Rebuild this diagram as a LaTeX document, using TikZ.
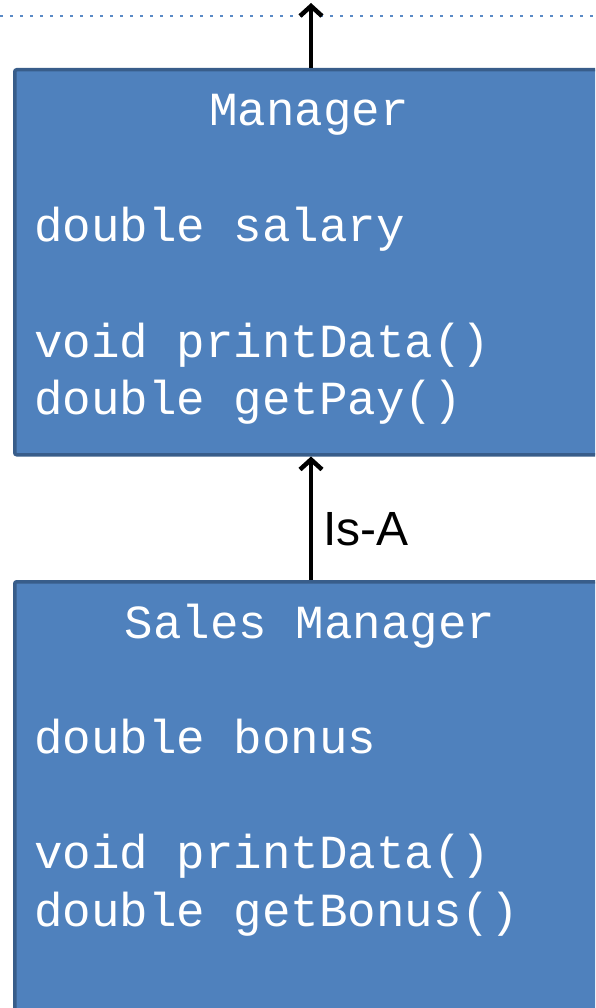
\documentclass[tikz,border=0pt]{standalone}
\usepackage{fontspec}
\setmainfont{Liberation Sans}
\newfontfamily\codefont{Liberation Mono}
\usetikzlibrary{arrows.meta}
\definecolor{boxfill}{HTML}{4F81BD}
\definecolor{boxline}{HTML}{385D8A}
\definecolor{dotcol}{HTML}{5A8AC6}
\begin{document}
\begin{tikzpicture}[x=1pt,y=-1pt,
 box/.style={draw=boxline, line width=3.5pt, fill=boxfill, rounded corners=2pt, anchor=north west, inner sep=0pt},
 code/.style={font=\codefont\fontsize{47.5}{57}\selectfont, text=white, anchor=base west, inner sep=0pt},
 title/.style={code, anchor=base},
 arr/.style={line width=4.5pt, -{Straight Barb[length=10pt,width=22pt,line width=4.5pt]}}]
\useasboundingbox (0,0) rectangle (595,1008);
\clip (0,0) rectangle (595,1008);
\draw[dotcol, line width=2.5pt, dash pattern=on 2.5pt off 7.5pt] (0,16) -- (595,16);
\node[box, minimum width=640pt, minimum height=385pt] (mgr) at (13,68) {};
\node[box, minimum width=640pt, minimum height=470pt] (smgr) at (13,580) {};
\node[title] (t1) at (309,126) {Manager};
\node[code] (a1) at (34,241) {double salary};
\node[code] (m1) at (34,357) {void printData()};
\node[code] (m2) at (34,414) {double getPay()};
\node[title] (t2) at (310,638) {Sales Manager};
\node[code] (a2) at (34,753) {double bonus};
\node[code] (m3) at (34,868) {void printData()};
\node[code] (m4) at (34,926) {double getBonus()};
\coordinate (top) at (311,3);
\draw[arr] (mgr.north -| top) -- (top);
\draw[arr] (smgr.north -| top) -- (mgr.south -| top);
\node[font=\fontsize{48}{58}\selectfont, anchor=base west, inner sep=0pt] (isa) at (323,545) {Is-A};
\end{tikzpicture}
\end{document}
